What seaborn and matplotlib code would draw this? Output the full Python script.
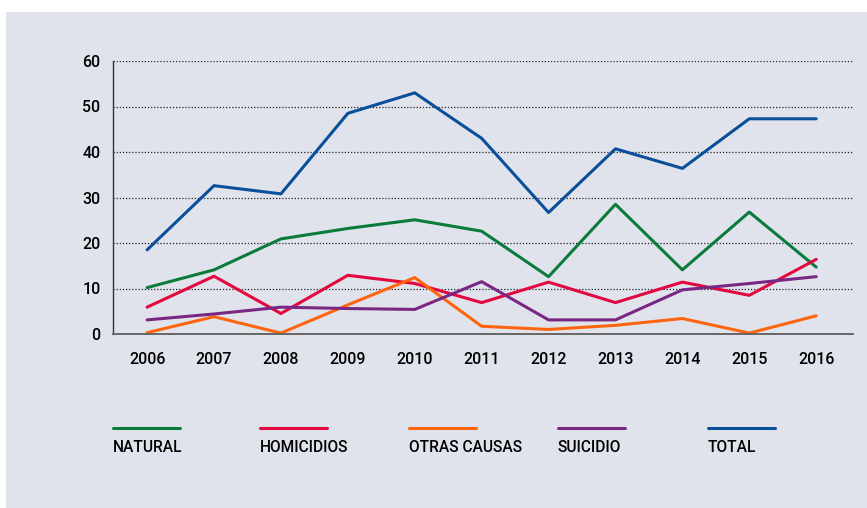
import matplotlib
matplotlib.use("Agg")
import matplotlib.pyplot as plt
import seaborn as sns
import pandas as pd
from matplotlib.patches import Rectangle
from matplotlib.lines import Line2D

# Datos
years = [2006, 2007, 2008, 2009, 2010, 2011, 2012, 2013, 2014, 2015, 2016]
natural = [10.2, 14.1, 20.9, 23.2, 25.1, 22.6, 12.6, 28.5, 14.1, 26.8, 14.7]
homicidios = [5.9, 12.7, 4.5, 12.9, 11.1, 6.9, 11.4, 6.9, 11.4, 8.5, 16.4]
otras_causas = [0.3, 3.8, 0.2, 6.4, 12.4, 1.7, 1.0, 1.9, 3.4, 0.2, 4.0]
suicidio = [3.1, 4.4, 5.9, 5.6, 5.4, 11.5, 3.1, 3.1, 9.7, 11.1, 12.6]
total = [18.5, 32.6, 30.8, 48.5, 53.0, 43.0, 26.7, 40.7, 36.4, 47.3, 47.3]

series = ['NATURAL', 'HOMICIDIOS', 'OTRAS CAUSAS', 'SUICIDIO', 'TOTAL']
colores = ['#0b7b3c', '#e3073f', '#ff650f', '#7a2783', '#0a4f9a']

df = pd.DataFrame({
    'year': years * 5,
    'valor': natural + homicidios + otras_causas + suicidio + total,
    'serie': [s for s in series for _ in years],
})

sns.set_style('white')
plt.rcParams['font.family'] = ['Roboto', 'DejaVu Sans']

bg = '#e0e3ec'
fig = plt.figure(figsize=(8.67, 5.08), dpi=100)
fig.patch.set_facecolor('white')
fig.add_artist(Rectangle((6 / 867, 0), 1, 496 / 508, transform=fig.transFigure,
                         facecolor=bg, edgecolor='none', zorder=0))

ax = fig.add_axes([113 / 867, 174 / 508, 740 / 867, 273 / 508])
ax.set_facecolor(bg)

sns.lineplot(data=df, x='year', y='valor', hue='serie', hue_order=series,
             palette=dict(zip(series, colores)), linewidth=2.2, legend=False, ax=ax)

ax.set_xlim(2005.49, 2016.55)
ax.set_ylim(0, 60)
ax.set_xticks(years)
ax.set_yticks(range(0, 61, 10))
ax.set_xlabel('')
ax.set_ylabel('')
for y in range(10, 61, 10):
    ax.axhline(y, color='#222222', linestyle=(0, (1, 1.5)), linewidth=0.9, zorder=0.5)

for s in ['top', 'right']:
    ax.spines[s].set_visible(False)
ax.spines['left'].set_color('#333333')
ax.spines['bottom'].set_color('#666666')
ax.spines['left'].set_linewidth(1.0)
ax.spines['bottom'].set_linewidth(1.4)
ax.tick_params(axis='both', length=0, labelsize=11.5, colors='black')
for lab in ax.get_xticklabels() + ax.get_yticklabels():
    lab.set_fontweight('medium')
ax.tick_params(axis='x', pad=13)
ax.tick_params(axis='y', pad=9)

# Leyenda manual: linea arriba, texto debajo
x0 = [113, 260, 409, 558, 708]
for x, s, c in zip(x0, series, colores):
    fig.add_artist(Line2D([x / 867, (x + 67) / 867], [1 - 428 / 508] * 2,
                          transform=fig.transFigure, color=c, linewidth=2.2))
    fig.text(x / 867, 1 - 448 / 508, s, fontsize=11.2, fontweight='medium',
             ha='left', va='center', color='black')

fig.savefig('out.png', dpi=100, facecolor=fig.get_facecolor())
